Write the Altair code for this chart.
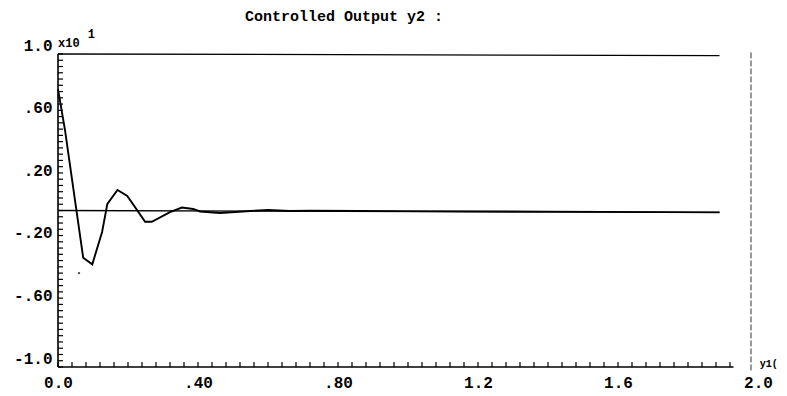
import altair as alt
import pandas as pd

# ---- data ----
curve_x = [0.0, 0.02, 0.072, 0.098, 0.126, 0.141, 0.170, 0.198, 0.249, 0.268,
           0.32, 0.354, 0.386, 0.406, 0.463, 0.549, 0.60, 0.663, 0.72, 1.0, 1.4, 1.89]
curve_y = [0.776, 0.514, -0.302, -0.344, -0.137, 0.042, 0.131, 0.093, -0.072, -0.072,
           -0.01, 0.019, 0.01, -0.006, -0.016, -0.003, 0.003, -0.003, -0.002, -0.004, -0.007, -0.012]

zero_x = [0.0, 1.89]
zero_y = [0.0, -0.012]
top_x = [0.0, 1.89]
top_y = [1.0, 0.99]
vline_x = [1.98, 1.98]
vline_y = [1.01, -1.03]
left_x = [0.0, 0.0]
left_y = [-1.0, 1.0]
bottom_x = [0.0, 1.93]
bottom_y = [-1.0, -1.0]

dot_x = [0.06]
dot_y = [-0.40]

x_tick_values = [0.0, 0.4, 0.8, 1.2, 1.6, 2.0]
x_tick_labels = ["0.0", ".40", ".80", "1.2", "1.6", "2.0"]
y_tick_values = [1.0, 0.6, 0.2, -0.2, -0.6, -1.0]
y_tick_labels = ["1.0", ".60", ".20", "-.20", "-.60", "-1.0"]
x_minor = [round(i * 0.04, 2) for i in range(0, 49)]
y_minor = [round(-1.0 + i * 0.04, 2) for i in range(0, 51)]

title_text = "Controlled Output y2 :"
annot_text = ["x10", "1", "y1(", title_text]
annot_x = [0.0, 0.085, 2.005, 0.817]
annot_y = [1.045, 1.105, -1.0, 1.211]
annot_size = [12, 12, 10, 15]
annot_align = ["left", "left", "left", "center"]

FONT = "Liberation Mono"


def label_expr(values, labels):
    expr = "''"
    for v, l in reversed(list(zip(values, labels))):
        expr = "abs(datum.value - (%s)) < 1e-6 ? '%s' : (%s)" % (repr(v), l, expr)
    return expr


xs = alt.Scale(domain=[0, 2], nice=False, zero=False)
ys = alt.Scale(domain=[-1, 1], nice=False, zero=False)

x_axis = alt.Axis(values=x_tick_values, labelExpr=label_expr(x_tick_values, x_tick_labels),
                  domain=False, ticks=False, grid=False, title=None,
                  labelFont=FONT, labelFontSize=16, labelFontWeight="bold",
                  labelPadding=7, labelColor="black", labelFlush=False, labelOverlap=False)
y_axis = alt.Axis(values=y_tick_values, labelExpr=label_expr(y_tick_values, y_tick_labels),
                  domain=False, ticks=False, grid=False, title=None,
                  labelFont=FONT, labelFontSize=16, labelFontWeight="bold",
                  labelPadding=6, labelBaseline="alphabetic", labelOffset=-4,
                  labelColor="black", labelFlush=False, labelOverlap=False)

X = alt.X("x:Q", scale=xs, axis=x_axis)
Y = alt.Y("y:Q", scale=ys, axis=y_axis)

curve_df = pd.DataFrame({"x": curve_x, "y": curve_y})
curve = alt.Chart(curve_df).mark_line(color="black", strokeWidth=1.9).encode(x=X, y=Y)


def seg(xv, yv, width=1.3, color="black", dash=None):
    kw = dict(color=color, strokeWidth=width)
    if dash:
        kw["strokeDash"] = dash
    return alt.Chart(pd.DataFrame({"x": xv, "y": yv})).mark_line(**kw).encode(x=X, y=Y)


zero_line = seg(zero_x, zero_y, 1.3)
top_line = seg(top_x, top_y, 1.3)
vline = seg(vline_x, vline_y, 1.0, "#333333", [6, 2])
left_line = seg(left_x, left_y, 1.6)
bottom_line = seg(bottom_x, bottom_y, 1.4)

xt = alt.Chart(pd.DataFrame({"x": x_minor})).mark_rule(color="black", strokeWidth=1.2).encode(
    x=X, y=alt.value(313), y2=alt.value(308),
)
yt = alt.Chart(pd.DataFrame({"y": y_minor})).mark_rule(color="black", strokeWidth=1.2).encode(
    y=Y, x=alt.value(0), x2=alt.value(5),
)

dot = alt.Chart(pd.DataFrame({"x": dot_x, "y": dot_y})).mark_point(
    filled=True, color="black", size=6).encode(x=X, y=Y)

annot_df = pd.DataFrame({"x": annot_x, "y": annot_y, "t": annot_text,
                         "s": annot_size, "a": annot_align})
annot_left = alt.Chart(annot_df[annot_df.a == "left"]).mark_text(
    font=FONT, fontWeight="bold", align="left", baseline="alphabetic", color="black").encode(
    x=X, y=Y, text="t:N", size=alt.Size("s:Q", scale=None, legend=None),
)
annot_center = alt.Chart(annot_df[annot_df.a == "center"]).mark_text(
    font=FONT, fontWeight="bold", align="center", baseline="alphabetic", color="black").encode(
    x=X, y=Y, text="t:N", size=alt.Size("s:Q", scale=None, legend=None),
)

chart = alt.layer(curve, top_line, zero_line, vline, left_line, bottom_line, xt, yt, dot,
                  annot_left, annot_center).properties(
    width=700, height=313,
    autosize=alt.AutoSizeParams(type="none"),
    padding={"left": 58, "top": 54, "right": 29, "bottom": 29},
).configure(background="white").configure_view(stroke=None)

chart.save("out.html", embed_options={"renderer": "svg", "actions": False})
